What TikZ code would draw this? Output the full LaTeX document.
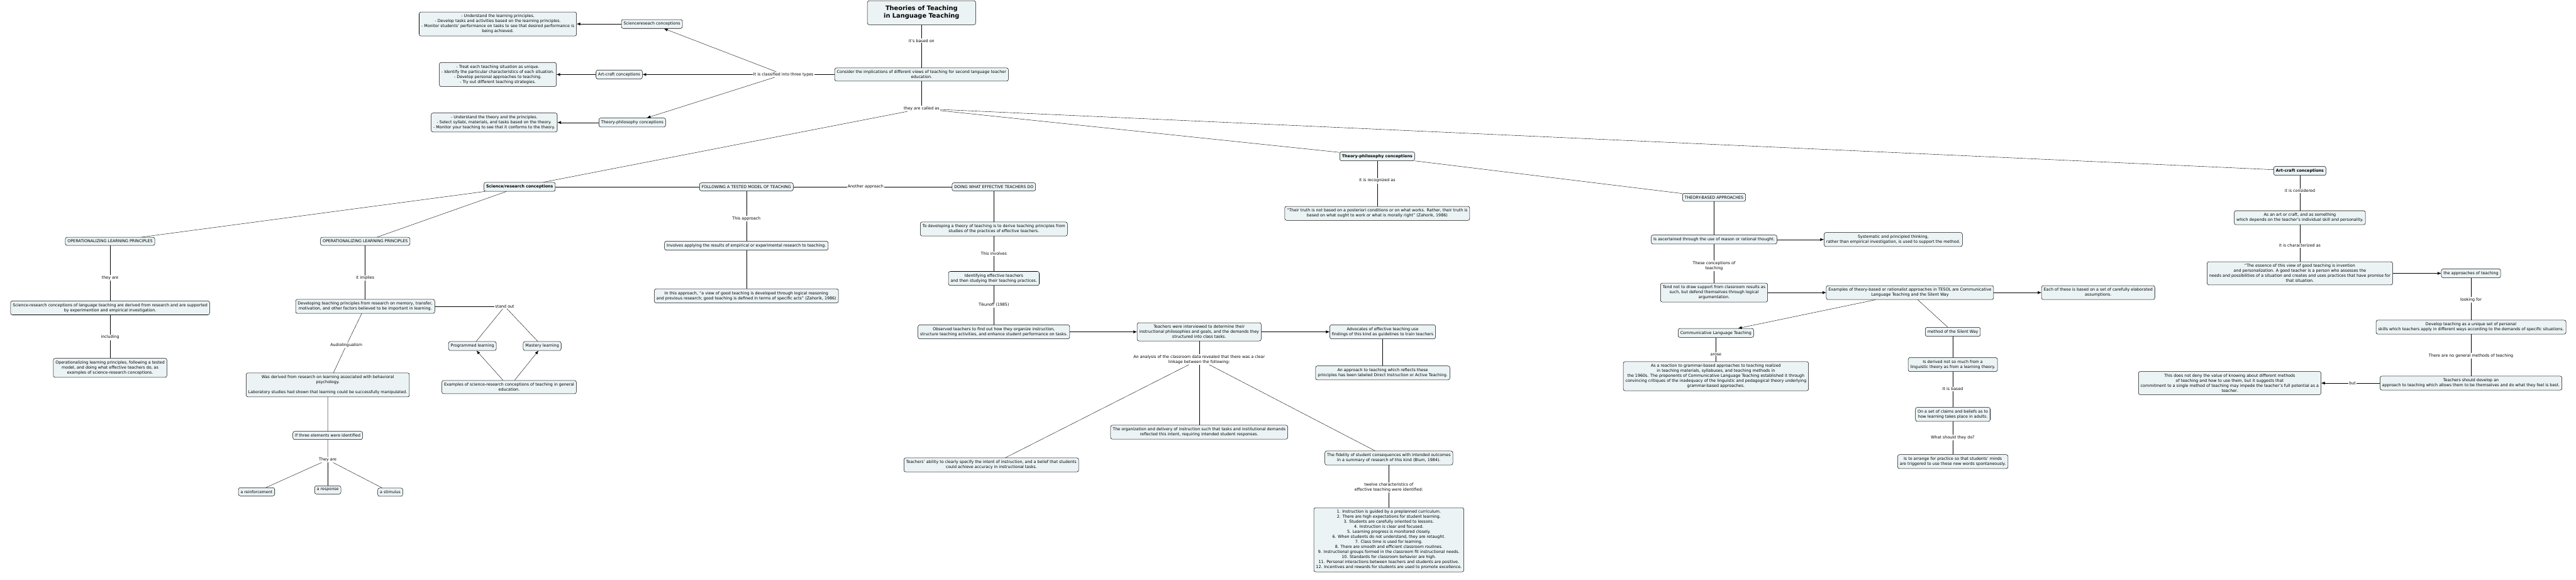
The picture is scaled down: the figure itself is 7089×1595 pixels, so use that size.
\documentclass[tikz,border=0pt]{standalone}
\usepackage{fontspec}
\setmainfont{DejaVu Sans}
\usepackage{xcolor}
\usepackage{tikz}
\usetikzlibrary{arrows.meta, positioning}
\definecolor{cmapfill}{RGB}{235,243,245}
\newcommand{\mapfont}{\fontsize{11}{13.8}\selectfont}

\begin{document}
\begin{tikzpicture}[
    x=1pt, y=-1pt,
    on grid,
    concept/.style={rectangle, draw, rounded corners=5pt, fill=cmapfill, align=center, font=\mapfont, inner xsep=6pt, inner ysep=7pt, line width=0.9pt},
    key/.style={concept, font=\mapfont\bfseries},
    root/.style={concept, font=\fontsize{17}{20.7}\selectfont\bfseries, minimum width=298pt, minimum height=66pt},
    phrase/.style={align=center, font=\mapfont, inner sep=2pt},
    wire/.style={line width=0.7pt},
    arrow/.style={wire, -{Latex[length=10pt,width=8pt]}}
]

\useasboundingbox (0,0) rectangle (7089,1595);

% Title and the three conceptions (top left)
\node[root] (title) at (2536,35) {Theories of Teaching\\in Language Teaching};
\node[phrase, below=77pt of title] (basedon) {it's based on};
\node[concept, below=93pt of basedon] (consider) {Consider the implications of different views of teaching for second language teacher\\education.};
\node[phrase, left=380pt of consider] (classify) {It is classified into three types};

\node[concept, above left=139pt and 362pt of classify] (sciTop) {Sciencereseach conceptions};
\node[concept, left=424pt of sciTop] (sciDo) {- Understand the learning principles.\\- Develop tasks and activities based on the learning principles.\\- Monitor students’ performance on tasks to see that desired performance is\\being achieved.};
\node[concept, left=452pt of classify] (artTop) {Art-craft conceptions};
\node[concept, left=334pt of artTop] (artDo) {- Treat each teaching situation as unique.\\- Identify the particular characteristics of each situation.\\- Develop personal approaches to teaching.\\- Try out different teaching strategies.};
\node[concept, below left=132pt and 416pt of classify] (theoTop) {Theory-philosophy conceptions};
\node[concept, left=380pt of theoTop] (theoDo) {- Understand the theory and the principles.\\- Select syllabi, materials, and tasks based on the theory.\\- Monitor your teaching to see that it conforms to the theory.};

\node[phrase, below=94pt of consider] (calledas) {they are called as};

% Science/research conceptions
\node[key, below left=215pt and 1106pt of calledas] (sciM) {Science/research conceptions};

\node[concept, below left=150pt and 1127pt of sciM] (operL) {OPERATIONALIZING LEARNING PRINCIPLES};
\node[phrase, below=100pt of operL] (theyare) {they are};
\node[concept, below=83pt of theyare] (sciDef) {Science-research conceptions of language teaching are derived from research and are supported\\by experimention and empirical investigation.};
\node[phrase, below=81pt of sciDef] (including) {including};
\node[concept, below=84pt of including] (operEx) {Operationalizing learning principles, following a tested\\model, and doing what effective teachers do, as\\examples of science-research conceptions.};

\node[concept, below left=150pt and 425pt of sciM] (operM) {OPERATIONALIZING LEARNING PRINCIPLES};
\node[phrase, below=101pt of operM] (implies) {it implies};
\node[concept, below=78pt of implies] (develop) {Developing teaching principles from research on memory, transfer,\\motivation, and other factors believed to be important in learning.};
\node[phrase, right=384pt of develop] (standout) {stand out};
\node[concept, below left=109pt and 89pt of standout] (progr) {Programmed learning};
\node[concept, below right=109pt and 103pt of standout] (mastery) {Mastery learning};
\node[concept, below right=113pt and 101pt of progr] (exGen) {Examples of science-research conceptions of teaching in general\\education.};
\node[phrase, below left=107pt and 52pt of develop] (audio) {Audiolingualism};
\node[concept, below left=109pt and 51pt of audio] (derived) {Was derived from research on learning associated with behavioral\\psychology.\\[13.8pt]Laboratory studies had shown that learning could be successfully manipulated.};
\node[concept, below=139pt of derived] (three) {If three elements were identified};
\node[phrase, below=67pt of three] (theyare2) {They are};
\node[concept, below left=88pt and 196pt of theyare2] (reinf) {a reinforcement};
\node[concept, below=83pt of theyare2] (resp) {a response};
\node[concept, below right=89pt and 172pt of theyare2] (stim) {a stimulus};

\node[concept, right=624pt of sciM] (follow) {FOLLOWING A TESTED MODEL OF TEACHING};
\node[phrase, right=328pt of follow] (another) {Another approach};
\node[concept, right=353pt of another] (doing) {DOING WHAT EFFECTIVE TEACHERS DO};
\node[phrase, below=87pt of follow] (thisappr) {This approach};
\node[concept, below=75pt of thisappr] (involves) {Involves applying the results of empirical or experimental research to teaching.};
\node[concept, below=138pt of involves] (inthis) {In this approach, “a view of good teaching is developed through logical reasoning\\and previous research; good teaching is defined in terms of specific acts” (Zahorik, 1986)};

\node[concept, below=116pt of doing] (todev) {To developing a theory of teaching is to derive teaching principles from\\studies of the practices of effective teachers.};
\node[phrase, below=68pt of todev] (thisinv) {This involves};
\node[concept, below=68pt of thisinv] (identify) {Identifying effective teachers\\and then studying their teaching practices.};
\node[phrase, below=73pt of identify] (tikunoff) {Tikunoff (1985)};
\node[concept, below=74pt of tikunoff] (observed) {Observed teachers to find out how they organize instruction,\\structure teaching activities, and enhance student performance on tasks.};
\node[concept, right=565pt of observed] (interv) {Teachers were interviewed to determine their\\instructional philosophies and goals, and the demands they\\structured into class tasks.};
\node[concept, right=505pt of interv] (advoc) {Advocates of effective teaching use\\findings of this kind as guidelines to train teachers};
\node[concept, below=113pt of advoc] (direct) {An approach to teaching which reflects these\\principles has been labeled Direct Instruction or Active Teaching.};
\node[phrase, below=76pt of interv] (analysis) {An analysis of the classroom data revealed that there was a clear\\linkage between the following:};
\node[concept, below left=290pt and 572pt of analysis] (ability) {Teachers’ ability to clearly specify the intent of instruction, and a belief that students\\could achieve accuracy in instructional tasks.};
\node[concept, below=200pt of analysis] (organ) {The organization and delivery of instruction such that tasks and institutional demands\\reflected this intent, requiring intended student responses.};
\node[concept, below right=271pt and 522pt of analysis] (fidelity) {The fidelity of student consequences with intended outcomes\\In a summary of research of this kind (Blum, 1984).};
\node[phrase, below=81pt of fidelity] (twelve) {twelve characteristics of\\effective teaching were identified:};
\node[concept, below=144pt of twelve] (list) {1. Instruction is guided by a preplanned curriculum.\\2. There are high expectations for student learning.\\3. Students are carefully oriented to lessons.\\4. Instruction is clear and focused.\\5. Learning progress is monitored closely.\\6. When students do not understand, they are retaught.\\7. Class time is used for learning.\\8. There are smooth and efficient classroom routines.\\9. Instructional groups formed in the classroom fit instructional needs.\\10. Standards for classroom behavior are high.\\11. Personal interactions between teachers and students are positive.\\12. Incentives and rewards for students are used to promote excellence.};

% Theory-philosophy conceptions
\node[key, below right=131pt and 1254pt of calledas] (theoM) {Theory-philosophy conceptions};
\node[phrase, below=67pt of theoM] (recog) {it is recognized as};
\node[concept, below=90pt of recog] (truth) {“Their truth is not based on a posteriori conditions or on what works. Rather, their truth is\\based on what ought to work or what is morally right” (Zahorik, 1986)};
\node[concept, below right=113pt and 927pt of theoM] (theoryBased) {THEORY-BASED APPROACHES};
\node[concept, below=116pt of theoryBased] (ascert) {Is ascertained through the use of reason or rational thought.};
\node[concept, right=493pt of ascert] (system) {Systematic and principled thinking,\\rather than empirical investigation, is used to support the method.};
\node[phrase, below=72pt of ascert] (theseconc) {These conceptions of\\teaching};
\node[concept, below=74pt of theseconc] (tendnot) {Tend not to draw support from classroom results as\\such, but defend themselves through logical\\argumentation.};
\node[concept, right=539pt of tendnot] (exTheory) {Examples of theory-based or rationalist approaches in TESOL are Communicative\\Language Teaching and the Silent Way};
\node[concept, right=518pt of exTheory] (each) {Each of these is based on a set of carefully elaborated\\assumptions.};
\node[concept, below left=111pt and 534pt of exTheory] (clt) {Communicative Language Teaching};
\node[phrase, below=59pt of clt] (arose) {arose};
\node[concept, below=60pt of arose] (reaction) {As a reaction to grammar-based approaches to teaching realized\\in teaching materials, syllabuses, and teaching methods in\\the 1960s. The proponents of Communicative Language Teaching established it through\\convincing critiques of the inadequacy of the linguistic and pedagogical theory underlying\\grammar-based approaches.};
\node[concept, below right=108pt and 118pt of exTheory] (silent) {method of the Silent Way};
\node[concept, below=90pt of silent] (isderived) {Is derived not so much from a\\linguistic theory as from a learning theory.};
\node[phrase, below=67pt of isderived] (itbased) {It is based};
\node[concept, below=70pt of itbased] (claims) {On a set of claims and beliefs as to\\how learning takes place in adults.};
\node[phrase, below=64pt of claims] (whatshould) {What should they do?};
\node[concept, below=66pt of whatshould] (arrange) {Is to arrange for practice so that students’ minds\\are triggered to use these new words spontaneously.};

% Art-craft conceptions
\node[key, below right=171pt and 3793pt of calledas] (artM) {Art-craft conceptions};
\node[phrase, below=55pt of artM] (considered) {it is considered};
\node[concept, below=74pt of considered] (artcraft) {As an art or craft, and as something\\which depends on the teacher’s individual skill and personality.};
\node[phrase, below=77pt of artcraft] (characterized) {it is characterized as};
\node[concept, below=76pt of characterized] (essence) {“The essence of this view of good teaching is invention\\and personalization. A good teacher is a person who assesses the\\needs and possibilities of a situation and creates and uses practices that have promise for\\that situation.};
\node[concept, right=471pt of essence] (approaches) {the approaches of teaching};
\node[phrase, below=73pt of approaches] (looking) {looking for};
\node[concept, below=75pt of looking] (developT) {Develop teaching as a unique set of personal\\skills which teachers apply in different ways according to the demands of specific situations.};
\node[phrase, below=79pt of developT] (nogeneral) {There are no general methods of teaching};
\node[concept, below=75pt of nogeneral] (teachers) {Teachers should develop an\\approach to teaching which allows them to be themselves and do what they feel is best.};
\node[phrase, left=326pt of teachers] (but) {but};
\node[concept, left=338pt of but] (deny) {This does not deny the value of knowing about different methods\\of teaching and how to use them, but it suggests that\\commitment to a single method of teaching may impede the teacher’s full potential as a\\teacher.};

% Arrows: title and three conceptions
\draw[wire] (title) -- (basedon) -- (consider);
\draw[wire] (consider) -- (classify);
\draw[arrow] (classify) -- (sciTop);
\draw[arrow] (classify) -- (artTop);
\draw[arrow] (classify) -- (theoTop);
\draw[arrow] (sciTop) -- (sciDo);
\draw[arrow] (artTop) -- (artDo);
\draw[arrow] (theoTop) -- (theoDo);
\draw[wire] (consider) -- (calledas);
\draw[wire] (calledas) -- (sciM);
\draw[wire] (calledas) -- (theoM);
\draw[wire] (calledas) -- (artM);

% Arrows: science/research
\draw[wire] (sciM) -- (operL);
\draw[wire] (operL) -- (theyare) -- (sciDef) -- (including) -- (operEx);
\draw[wire] (sciM) -- (operM);
\draw[wire] (operM) -- (implies) -- (develop);
\draw[wire] (develop) -- (standout);
\draw[wire] (standout) -- (progr);
\draw[wire] (standout) -- (mastery);
\draw[arrow] (exGen) -- (progr);
\draw[arrow] (exGen) -- (mastery);
\draw[wire] (develop) -- (audio) -- (derived) -- (three) -- (theyare2);
\draw[wire] (theyare2) -- (reinf);
\draw[wire] (theyare2) -- (resp);
\draw[wire] (theyare2) -- (stim);
\draw[wire] (sciM) -- (follow) -- (another) -- (doing);
\draw[wire] (follow) -- (thisappr) -- (involves) -- (inthis);
\draw[wire] (doing) -- (todev) -- (thisinv) -- (identify) -- (tikunoff) -- (observed);
\draw[arrow] (observed) -- (interv);
\draw[arrow] (interv) -- (advoc);
\draw[wire] (advoc) -- (direct);
\draw[wire] (interv) -- (analysis);
\draw[wire] (analysis) -- (ability);
\draw[wire] (analysis) -- (organ);
\draw[wire] (analysis) -- (fidelity);
\draw[wire] (fidelity) -- (twelve) -- (list);

% Arrows: theory-philosophy
\draw[wire] (theoM) -- (recog) -- (truth);
\draw[wire] (theoM) -- (theoryBased);
\draw[wire] (theoryBased) -- (ascert);
\draw[arrow] (ascert) -- (system);
\draw[wire] (ascert) -- (theseconc) -- (tendnot);
\draw[arrow] (tendnot) -- (exTheory);
\draw[arrow] (exTheory) -- (each);
\draw[arrow] (exTheory) -- (clt);
\draw[wire] (exTheory) -- (silent);
\draw[wire] (clt) -- (arose) -- (reaction);
\draw[wire] (silent) -- (isderived) -- (itbased) -- (claims) -- (whatshould) -- (arrange);

% Arrows: art-craft
\draw[wire] (artM) -- (considered) -- (artcraft) -- (characterized) -- (essence);
\draw[arrow] (essence) -- (approaches);
\draw[wire] (approaches) -- (looking) -- (developT) -- (nogeneral) -- (teachers);
\draw[wire] (teachers) -- (but);
\draw[arrow] (but) -- (deny);

\end{tikzpicture}
\end{document}
